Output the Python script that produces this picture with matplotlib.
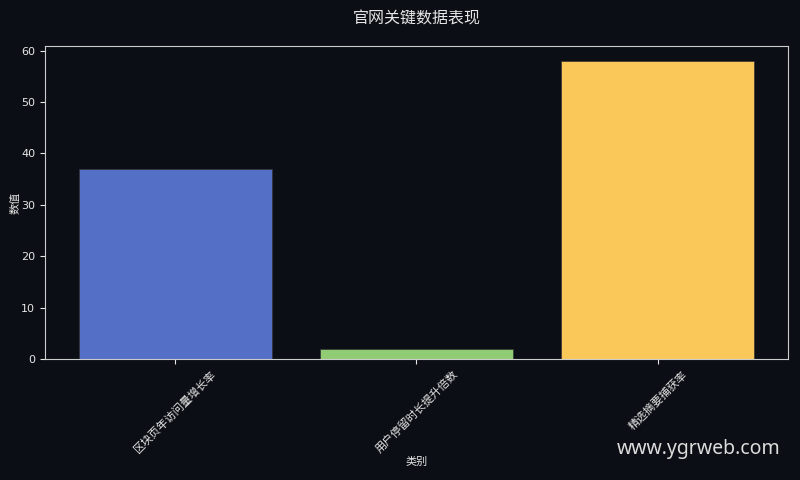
import matplotlib
matplotlib.use("Agg")
import matplotlib.pyplot as plt

plt.rcParams['font.family'] = ['DejaVu Sans', 'Noto Sans CJK SC']
plt.rcParams['axes.unicode_minus'] = False

categories = ["区块页年访问量增长率", "用户停留时长提升倍数", "精选摘要捕获率"]
values = [37, 2, 58]
colors = ["#5470c6", "#91cc75", "#fac858"]

BG = "#0b0e14"
FG = "#e6e6e6"

fig, ax = plt.subplots(figsize=(8, 4.8), dpi=100)
fig.patch.set_facecolor(BG)
ax.set_facecolor(BG)

ax.bar(categories, values, color=colors, width=0.8, edgecolor="#333333", linewidth=0.5)

ax.set_title("官网关键数据表现", color=FG, fontsize=11.5, pad=16)
ax.set_xlabel("类别", color=FG, fontsize=8, labelpad=1)
ax.set_ylabel("数值", color=FG, fontsize=8, labelpad=0)
ax.tick_params(colors=FG, labelsize=8)
plt.xticks(rotation=45)
for s in ax.spines.values():
    s.set_color("#cccccc")

fig.subplots_adjust(left=0.056, right=0.985, top=0.904, bottom=0.252)
fig.text(0.976, 0.065, "www.ygrweb.com", color="#dddddd", fontsize=14,
         family=["Noto Sans", "DejaVu Sans"], ha="right", va="center")

fig.savefig("out.png", dpi=100, facecolor=BG)
